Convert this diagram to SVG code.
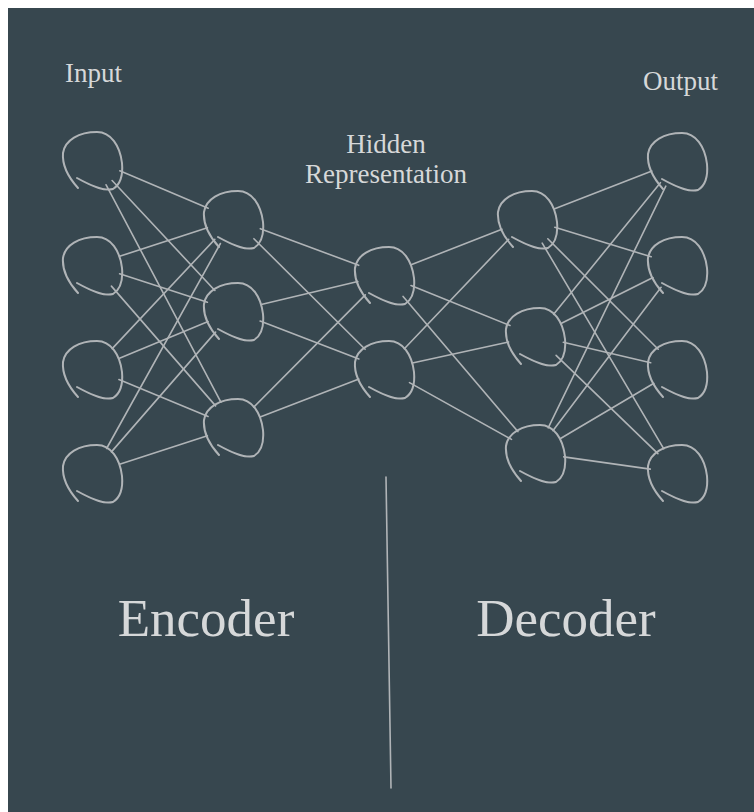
<svg xmlns="http://www.w3.org/2000/svg" xmlns:xlink="http://www.w3.org/1999/xlink" width="754" height="812" viewBox="0 0 754 812">
<style>
.bg{fill:#37474f}
.n{fill:none;stroke:#b0b4b7;stroke-width:2;stroke-linecap:round;stroke-linejoin:round}
.e line{stroke:#b0b4b7;stroke-width:1.6;stroke-linecap:round}
.t{font-family:"Liberation Serif","Times New Roman",serif;fill:#d6d8d9}
.s{font-size:27px}
.b{font-size:53px}
</style>
<defs>
<path id="node" d="M -15,28 C -24,18 -31,5 -30,-7 C -28,-20 -14,-28 4,-28 C 18,-28 27,-14 29,3 C 30,14 28,24 20,29 C 12,31 2,28 -16,18"/>
</defs>
<rect x="0" y="0" width="754" height="812" fill="#ffffff"/>
<rect class="bg" x="8" y="8" width="746" height="804"/>
<g id="connectors" class="e">
<line x1="119.8" y1="170.8" x2="208.2" y2="208.2"/>
<line x1="112.1" y1="180.5" x2="214.9" y2="290.5"/>
<line x1="106.1" y1="184.8" x2="220.9" y2="402.2"/>
<line x1="119.6" y1="256.3" x2="207.4" y2="227.7"/>
<line x1="119.6" y1="273.7" x2="207.4" y2="302.3"/>
<line x1="111.4" y1="286.1" x2="215.6" y2="405.9"/>
<line x1="112.2" y1="348.6" x2="214.8" y2="239.4"/>
<line x1="118.9" y1="358.4" x2="208.1" y2="321.6"/>
<line x1="118.9" y1="379.6" x2="208.1" y2="416.4"/>
<line x1="106.6" y1="448.5" x2="220.4" y2="243.5"/>
<line x1="111.4" y1="451.9" x2="215.6" y2="332.1"/>
<line x1="119.6" y1="464.3" x2="207.4" y2="435.7"/>
<line x1="260.3" y1="228.7" x2="358.7" y2="265.3"/>
<line x1="253.9" y1="238.7" x2="365.1" y2="349.3"/>
<line x1="261.2" y1="304.5" x2="357.8" y2="281.5"/>
<line x1="260.1" y1="321.0" x2="358.9" y2="359.0"/>
<line x1="253.7" y1="407.1" x2="365.3" y2="294.9"/>
<line x1="260.1" y1="417.0" x2="358.9" y2="379.0"/>
<line x1="411.1" y1="264.8" x2="501.9" y2="229.2"/>
<line x1="411.0" y1="285.5" x2="510.0" y2="325.5"/>
<line x1="403.1" y1="296.4" x2="517.9" y2="431.6"/>
<line x1="404.3" y1="348.7" x2="508.7" y2="239.3"/>
<line x1="412.4" y1="363.0" x2="508.6" y2="342.0"/>
<line x1="409.5" y1="382.6" x2="511.5" y2="439.4"/>
<line x1="554.1" y1="208.9" x2="651.9" y2="171.1"/>
<line x1="554.8" y1="227.2" x2="651.2" y2="256.8"/>
<line x1="547.8" y1="238.8" x2="658.2" y2="349.2"/>
<line x1="542.2" y1="243.1" x2="663.8" y2="448.9"/>
<line x1="553.6" y1="314.3" x2="660.4" y2="182.7"/>
<line x1="561.0" y1="323.5" x2="653.0" y2="277.5"/>
<line x1="563.3" y1="342.3" x2="650.7" y2="362.7"/>
<line x1="556.1" y1="355.4" x2="657.9" y2="453.6"/>
<line x1="548.2" y1="427.8" x2="665.8" y2="186.2"/>
<line x1="552.9" y1="430.7" x2="661.1" y2="287.3"/>
<line x1="560.1" y1="438.7" x2="653.9" y2="383.3"/>
<line x1="563.7" y1="456.9" x2="650.3" y2="469.1"/>
<line x1="386" y1="477" x2="391" y2="788"/>
</g>
<g id="in1"><use class="n" xlink:href="#node" href="#node" transform="translate(93,160)"/></g>
<g id="in2"><use class="n" xlink:href="#node" href="#node" transform="translate(93,265)"/></g>
<g id="in3"><use class="n" xlink:href="#node" href="#node" transform="translate(93,369)"/></g>
<g id="in4"><use class="n" xlink:href="#node" href="#node" transform="translate(93,473)"/></g>
<g id="enc1"><use class="n" xlink:href="#node" href="#node" transform="translate(234,219)"/></g>
<g id="enc2"><use class="n" xlink:href="#node" href="#node" transform="translate(234,311)"/></g>
<g id="enc3"><use class="n" xlink:href="#node" href="#node" transform="translate(234,427)"/></g>
<g id="hid1"><use class="n" xlink:href="#node" href="#node" transform="translate(385,275)"/></g>
<g id="hid2"><use class="n" xlink:href="#node" href="#node" transform="translate(385,369)"/></g>
<g id="dec1"><use class="n" xlink:href="#node" href="#node" transform="translate(528,219)"/></g>
<g id="dec2"><use class="n" xlink:href="#node" href="#node" transform="translate(536,336)"/></g>
<g id="dec3"><use class="n" xlink:href="#node" href="#node" transform="translate(536,453)"/></g>
<g id="out1"><use class="n" xlink:href="#node" href="#node" transform="translate(678,161)"/></g>
<g id="out2"><use class="n" xlink:href="#node" href="#node" transform="translate(678,265)"/></g>
<g id="out3"><use class="n" xlink:href="#node" href="#node" transform="translate(678,369)"/></g>
<g id="out4"><use class="n" xlink:href="#node" href="#node" transform="translate(678,473)"/></g>
<g id="labels">
<text class="t s" x="65" y="82">Input</text>
<text class="t s" x="643" y="90">Output</text>
<text class="t s" x="386" y="153" text-anchor="middle">Hidden</text>
<text class="t s" x="386" y="183" text-anchor="middle">Representation</text>
<text class="t b" x="206" y="636" text-anchor="middle">Encoder</text>
<text class="t b" x="566" y="636" text-anchor="middle">Decoder</text>
</g>
</svg>
